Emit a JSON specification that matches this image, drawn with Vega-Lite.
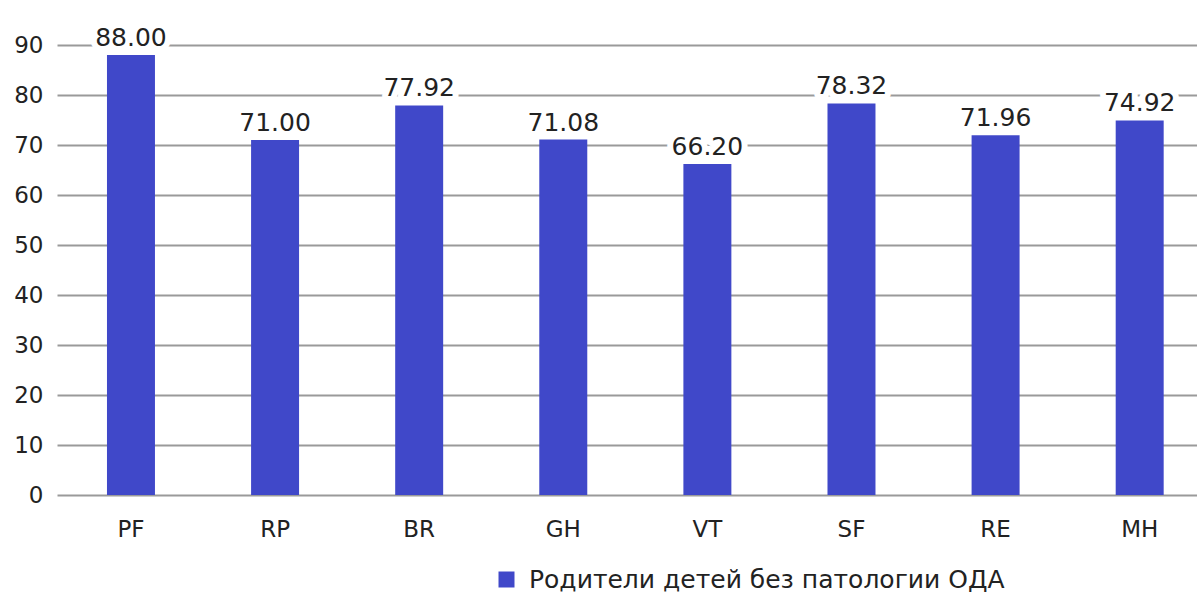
{
  "$schema": "https://vega.github.io/schema/vega-lite/v6.json",
  "width": 1140,
  "height": 450,
  "autosize": {"type": "none"},
  "padding": {"left": 57, "top": 45, "right": 0, "bottom": 97},
  "background": "white",
  "config": {
    "view": {"stroke": null},
    "font": "DejaVu Sans"
  },
  "data": {
    "values": [
      {"cat": "PF", "value": 88.00, "series": "Родители детей без патологии ОДА"},
      {"cat": "RP", "value": 71.00, "series": "Родители детей без патологии ОДА"},
      {"cat": "BR", "value": 77.92, "series": "Родители детей без патологии ОДА"},
      {"cat": "GH", "value": 71.08, "series": "Родители детей без патологии ОДА"},
      {"cat": "VT", "value": 66.20, "series": "Родители детей без патологии ОДА"},
      {"cat": "SF", "value": 78.32, "series": "Родители детей без патологии ОДА"},
      {"cat": "RE", "value": 71.96, "series": "Родители детей без патологии ОДА"},
      {"cat": "MH", "value": 74.92, "series": "Родители детей без патологии ОДА"}
    ]
  },
  "encoding": {
    "x": {
      "field": "cat", "type": "nominal", "sort": null, "title": null,
      "scale": {"paddingInner": 0.667, "paddingOuter": 0.289, "align": 0.6},
      "axis": {"labelAngle": 0, "labelFontSize": 23, "labelColor": "#222", "labelPadding": 23, "ticks": false, "domain": false, "grid": false}
    },
    "y": {
      "field": "value", "type": "quantitative", "title": null,
      "scale": {"domain": [0, 90], "nice": false},
      "axis": {"values": [0,10,20,30,40,50,60,70,80,90], "labelFontSize": 23, "labelColor": "#222", "labelPadding": 14, "ticks": false, "domain": false, "gridColor": "#9a9a9a", "gridWidth": 2}
    }
  },
  "layer": [
    {
      "mark": {"type": "bar", "color": "#4048C9"},
      "encoding": {
        "color": {
          "field": "series", "type": "nominal", "scale": {"range": ["#4048C9"]},
          "legend": {"title": null, "orient": "none", "legendX": 437, "legendY": 522, "symbolType": "square", "symbolSize": 256, "symbolStrokeWidth": 0, "labelFontSize": 25, "labelColor": "#222", "labelLimit": 800, "labelOffset": 10}
        }
      }
    },
    {
      "mark": {"type": "text", "dy": -9, "baseline": "alphabetic", "fontSize": 25, "color": "white", "stroke": "white", "strokeWidth": 12, "strokeJoin": "round"},
      "encoding": {"text": {"field": "value", "type": "quantitative", "format": ".2f"}}
    },
    {
      "mark": {"type": "text", "dy": -9, "baseline": "alphabetic", "fontSize": 25, "color": "#222"},
      "encoding": {"text": {"field": "value", "type": "quantitative", "format": ".2f"}}
    }
  ]
}
